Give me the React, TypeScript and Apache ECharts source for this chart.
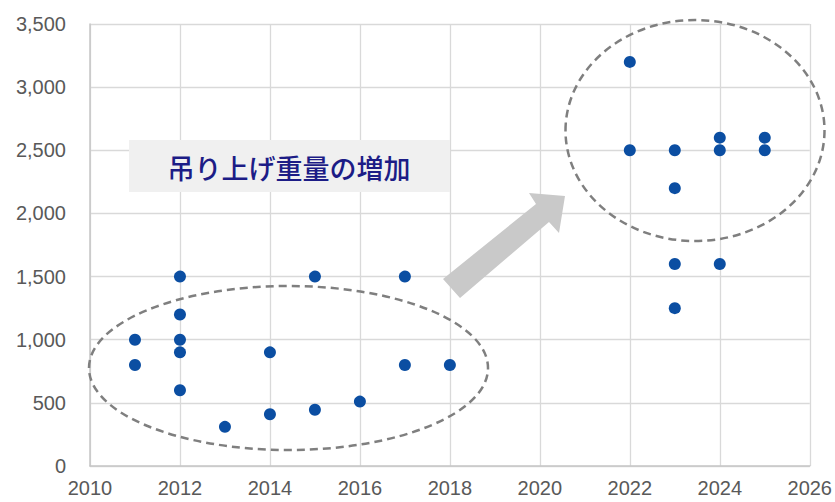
import React, { useEffect, useRef } from "react";
import * as echarts from "echarts";

const years: number[] = [
  2011, 2011,
  2012, 2012, 2012, 2012, 2012,
  2013,
  2014, 2014,
  2015, 2015,
  2016,
  2017, 2017,
  2018,
  2022, 2022,
  2023, 2023, 2023, 2023,
  2024, 2024, 2024,
  2025, 2025,
];
const weights: number[] = [
  1000, 800,
  1500, 1200, 1000, 900, 600,
  310,
  900, 410,
  1500, 445,
  510,
  1500, 800,
  800,
  3200, 2500,
  2500, 2200, 1600, 1250,
  2600, 2500, 1600,
  2600, 2500,
];
const annotationText = "吊り上げ重量の増加";

export default function App() {
  const ref = useRef<HTMLDivElement>(null);
  useEffect(() => {
    if (!ref.current) return;
    const chart = echarts.init(ref.current, undefined, { renderer: "svg" });
    const data = years.map((y, i) => [y, weights[i]]);
    const labelStyle = {
      color: "#595959",
      fontSize: 20,
      fontFamily: "Liberation Sans, Arial, sans-serif",
    };
    chart.setOption({
      animation: false,
      backgroundColor: "#ffffff",
      grid: { left: 90, top: 24, width: 722, height: 442, containLabel: false },
      xAxis: {
        type: "value",
        min: 2010,
        max: 2026,
        interval: 2,
        axisLine: { show: true, lineStyle: { color: "#c6c6c6", width: 1.5 } },
        axisTick: { show: false },
        splitLine: { show: true, lineStyle: { color: "#d9d9d9", width: 1.3 } },
        axisLabel: { ...labelStyle, margin: 12, formatter: (v: number) => String(v) },
      },
      yAxis: {
        type: "value",
        min: 0,
        max: 3500,
        interval: 500,
        axisLine: { show: true, lineStyle: { color: "#c6c6c6", width: 1.5 } },
        axisTick: { show: false },
        splitLine: { show: true, lineStyle: { color: "#d9d9d9", width: 1.3 } },
        axisLabel: {
          ...labelStyle,
          margin: 24,
          formatter: (v: number) => v.toLocaleString("en-US"),
        },
      },
      series: [
        {
          type: "scatter",
          data,
          symbol: "circle",
          symbolSize: 12,
          itemStyle: { color: "#0b4ea2", opacity: 1 },
          z: 5,
        },
      ],
      graphic: [
        {
          type: "ellipse",
          shape: { cx: 288.5, cy: 368, rx: 199.5, ry: 82 },
          style: { fill: "none", stroke: "#7f7f7f", lineWidth: 2.5, lineDash: [8, 5] },
          z: 10,
        },
        {
          type: "ellipse",
          shape: { cx: 695, cy: 130.5, rx: 129.5, ry: 110.5 },
          style: { fill: "none", stroke: "#7f7f7f", lineWidth: 2.5, lineDash: [8, 5] },
          z: 10,
        },
        {
          type: "polygon",
          shape: {
            points: [
              [443, 279],
              [536, 204],
              [529, 193],
              [565, 196],
              [559, 233],
              [549, 222],
              [460, 298],
            ],
          },
          style: { fill: "#c9c9c9", stroke: "none" },
          z: 10,
        },
        {
          type: "rect",
          shape: { x: 129, y: 140, width: 321, height: 52 },
          style: { fill: "#f0f0f0", stroke: "none" },
          z: 10,
        },
        {
          type: "text",
          x: 289,
          y: 167,
          style: {
            text: annotationText,
            fill: "#1c1c86",
            fontSize: 27,
            fontWeight: 500,
            fontFamily: "Noto Sans CJK JP, sans-serif",
            align: "center",
            verticalAlign: "middle",
          },
          z: 11,
        },
      ],
    });
    return () => chart.dispose();
  }, []);
  return (
    <div
      ref={ref}
      style={{ position: "fixed", left: 0, top: 0, width: 835, height: 502 }}
    />
  );
}
